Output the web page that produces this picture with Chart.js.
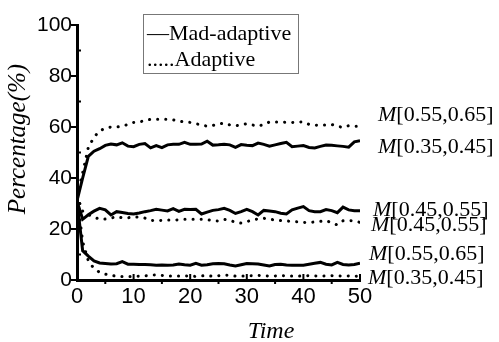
<!DOCTYPE html>
<html>
<head>
<meta charset="utf-8">
<script src="https://cdn.jsdelivr.net/npm/chart.js@4.4.1/dist/chart.umd.min.js"></script>
<style>
html, body { margin: 0; padding: 0; background: #fff; }
#wrap { width: 499px; height: 342px; }
</style>
</head>
<body>
<div id="wrap"><canvas id="myChart"></canvas></div>
<script>
var times = [0,1,2,3,4,5,6,7,8,9,10,11,12,13,14,15,16,17,18,19,20,21,22,23,24,25,
  26,27,28,29,30,31,32,33,34,35,36,37,38,39,40,41,42,43,44,45,46,47,48,49,50];

// Mad-adaptive (solid)
var madA = [31,40,48.5,50.5,51.5,52.8,53.3,53,53.8,52.5,52.3,53.2,53.5,51.8,52.7,51.9,53,53.2,53.2,54,53.2,
  53.2,53.3,54.4,52.9,53,53.2,53,52,53.1,52.8,52.7,53.7,53.2,52.5,53,53.5,54,52.3,52.5,52.7,
  52,51.8,52.4,52.9,52.8,52.6,52.4,52.1,54.2,54.6];
var madB = [31,23.8,25.6,27,28.1,27.5,25.5,26.8,26.5,26.1,25.9,26.3,26.8,27.2,27.7,27.4,27.1,28,26.9,27.7,27.6,
  27.7,25.9,26.6,27.3,27.6,28.1,27.3,26.1,26.8,27.7,26.8,25.5,27.3,27.1,26.8,26.2,25.9,27.5,28.2,28.8,
  27.2,26.8,26.8,27.6,27.2,26.4,28.6,27.5,27.2,27.2];
var madC = [31,11.5,9.4,7.5,6.7,6.5,6.3,6.4,7.2,6.2,6.2,6.1,6.1,6,5.8,5.9,5.8,5.9,6.3,6,5.8,
  6.5,5.8,6,6.4,6.5,6.4,5.9,5.5,6,6.5,6.4,6.3,5.9,5.5,6.1,6.2,5.9,5.8,5.8,5.8,
  6.2,6.6,6.9,6.2,5.9,6.9,6.1,5.9,6.1,6.6];

// Adaptive (dotted)
var adA = [33,42,52,56,58.5,59.5,60,60,60.3,61,61.8,62,62.5,63,63,63,63,62.8,62.3,62,61.8,
  61.3,60.8,60.3,60.6,61.2,61.5,60.8,60.5,60.8,61.3,60.8,60.3,61,62,62,62,61.8,61.8,61.9,62,
  61,60.7,60.8,60.8,61,60.3,59.8,60.5,60.3,60.3];
var adB = [33,27,25.6,24.7,23.8,23.9,24.3,24.8,24.4,24.4,24.8,24.6,24.3,23.4,23.3,23.4,23.5,23.5,23.6,23.8,23.8,
  23.8,23.8,23.7,23.2,23.1,23.8,23.4,22.6,22.3,22.9,23.5,24,24.2,23.9,23.5,23.3,23.2,22.9,22.8,22.6,
  22.5,22.8,23,23.3,22.4,21.6,23.2,23.3,23.2,22.6];
var adC = [33,15,7.5,4.5,3,2.3,1.9,1.4,1.4,1.4,1.4,1.5,1.6,1.9,2,1.8,1.6,1.6,1.6,1.6,1.5,
  1.4,1.6,1.8,1.4,1.7,1.9,1.8,1.5,1.6,1.6,1.7,1.8,1.7,1.5,1.6,1.7,1.6,1.6,1.5,1.6,
  1.7,1.6,1.5,1.6,1.7,1.6,1.5,1.6,1.4,1.7];

var xTicks = [0,10,20,30,40,50];
var xMinor = [5,15,25,35,45];
var yTicks = [0,20,40,60,80,100];
var yMinor = [10,30,50,70,90];

// right-hand labels: text and the value they sit at
var sideLabels = ['[0.55,0.65]','[0.35,0.45]','[0.45,0.55]','[0.45,0.55]','[0.55,0.65]','[0.35,0.45]'];
var sideLabelAt = [64.7,52.2,27.5,21.6,10.2,0.8];
var sideLabelX = [378,378,373,371,369,368];

var serif = '"Liberation Serif", "Times New Roman", serif';
var sans = '"Liberation Sans", Arial, sans-serif';

var overlay = {
  id: 'overlay',
  afterDraw: function(chart) {
    var ctx = chart.ctx;
    var xs = chart.scales.x, ys = chart.scales.y;
    var left = chart.chartArea.left, bottom = chart.chartArea.bottom;
    ctx.save();
    ctx.strokeStyle = '#000';
    ctx.lineWidth = 2;
    ctx.beginPath();
    xTicks.forEach(function(v){ var px = xs.getPixelForValue(v); ctx.moveTo(px, bottom); ctx.lineTo(px, bottom - 6); });
    xMinor.forEach(function(v){ var px = xs.getPixelForValue(v); ctx.moveTo(px, bottom); ctx.lineTo(px, bottom + 4); });
    yTicks.forEach(function(v){ var py = ys.getPixelForValue(v); ctx.moveTo(left, py); ctx.lineTo(left - 6, py); });
    yMinor.forEach(function(v){ var py = ys.getPixelForValue(v); ctx.moveTo(left, py); ctx.lineTo(left + 4, py); });
    ctx.stroke();

    // legend box
    ctx.strokeStyle = '#777';
    ctx.lineWidth = 1;
    ctx.strokeRect(143.5, 14.5, 155, 59);
    ctx.fillStyle = '#000';
    ctx.font = '22px ' + serif;
    ctx.textBaseline = 'middle';
    ctx.textAlign = 'left';
    ctx.fillText('\u2014Mad-adaptive', 147, 34);
    ctx.fillText('.....Adaptive', 147, 60);

    // side labels
    sideLabels.forEach(function(t, i){
      var py = ys.getPixelForValue(sideLabelAt[i]);
      ctx.font = 'italic 22px ' + serif;
      ctx.fillText('M', sideLabelX[i], py);
      var w = ctx.measureText('M').width;
      ctx.font = '22px ' + serif;
      ctx.fillText(t, sideLabelX[i] + w, py);
    });

    // axis titles
    ctx.font = 'italic 24px ' + serif;
    ctx.textAlign = 'center';
    ctx.fillText('Time', 271, 332);
    ctx.translate(18, 139);
    ctx.rotate(-Math.PI / 2);
    ctx.font = 'italic 25px ' + serif;
    ctx.fillText('Percentage(%)', 0, 0);
    ctx.restore();
  }
};

function solid(data) {
  return { data: data, borderColor: '#000', borderWidth: 3, pointRadius: 0, tension: 0, fill: false };
}
function dotted(data) {
  return { data: data, borderColor: '#000', borderWidth: 3, borderDash: [0.1, 8], borderCapStyle: 'round',
    pointRadius: 0, tension: 0, fill: false };
}

var ctx = document.getElementById('myChart').getContext('2d');
var myChart = new Chart(ctx, {
  type: 'line',
  data: {
    labels: times,
    datasets: [dotted(adA), dotted(adB), dotted(adC), solid(madA), solid(madB), solid(madC)]
  },
  options: {
    responsive: true,
    maintainAspectRatio: false,
    animation: false,
    layout: { padding: { left: 0, right: 139, top: 25, bottom: 0 } },
    plugins: { legend: { display: false }, tooltip: { enabled: false } },
    scales: {
      x: {
        type: 'linear', min: 0, max: 50,
        afterBuildTicks: function(s){ s.ticks = xTicks.map(function(v){ return { value: v }; }); },
        afterFit: function(s){ s.height = 62; },
        ticks: { color: '#000', font: { family: sans, size: 22 }, padding: 4, maxRotation: 0 },
        grid: { display: false, drawTicks: false, tickLength: 0 },
        border: { display: true, color: '#000', width: 3 }
      },
      y: {
        min: 0, max: 100,
        afterBuildTicks: function(s){ s.ticks = yTicks.map(function(v){ return { value: v }; }); },
        afterFit: function(s){ s.width = 77; },
        ticks: { color: '#000', font: { family: sans, size: 21 }, padding: 5 },
        grid: { display: false, drawTicks: false, tickLength: 0 },
        border: { display: true, color: '#000', width: 3 }
      }
    }
  },
  plugins: [overlay]
});
</script>
</body>
</html>
